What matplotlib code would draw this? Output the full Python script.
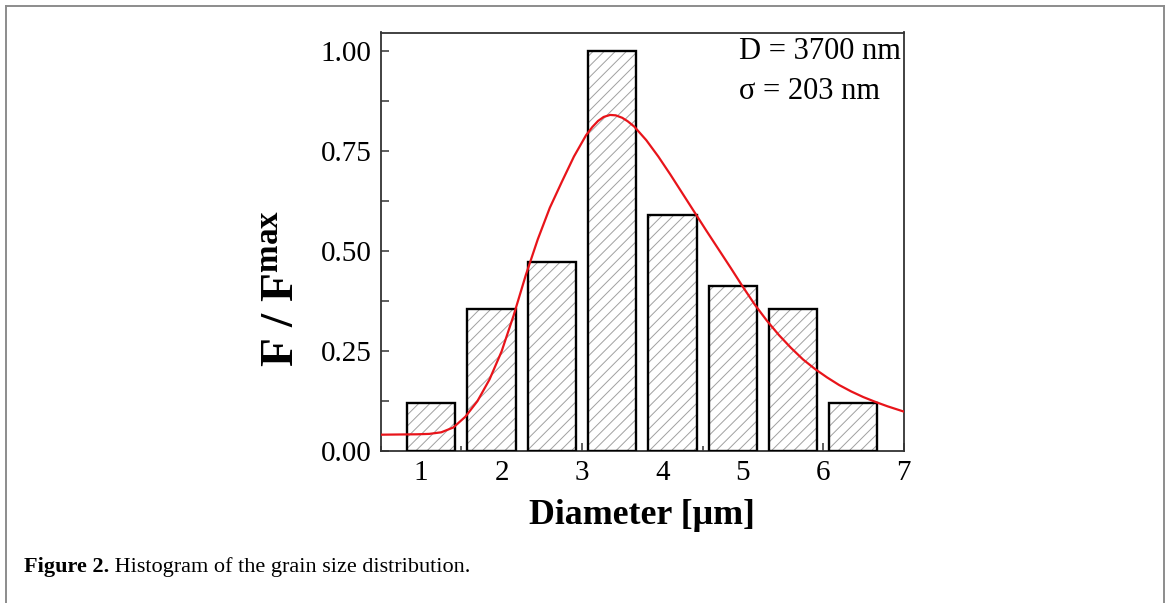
import matplotlib
matplotlib.use("Agg")
import matplotlib.pyplot as plt
from matplotlib.lines import Line2D
from matplotlib.ticker import MultipleLocator

plt.rcParams['font.family'] = ['Liberation Serif', 'DejaVu Serif']
plt.rcParams['mathtext.fontset'] = 'custom'
plt.rcParams['mathtext.rm'] = 'Liberation Serif'
plt.rcParams['mathtext.bf'] = 'Liberation Serif:bold'
plt.rcParams['mathtext.it'] = 'Liberation Serif:italic'
plt.rcParams['hatch.linewidth'] = 0.7

# ---- data ----
bin_centers = [1.125, 1.875, 2.625, 3.375, 4.125, 4.875, 5.625, 6.375]
rel_freq = [0.118, 0.353, 0.471, 1.000, 0.588, 0.412, 0.353, 0.118]
bar_width = 0.6

fit_x = [0.50, 0.95, 1.10, 1.25, 1.40, 1.55, 1.70, 1.85, 2.00, 2.15, 2.30,
         2.45, 2.60, 2.75, 2.90, 3.05, 3.13, 3.20, 3.27, 3.35, 3.42, 3.50,
         3.57, 3.65, 3.80, 3.95, 4.10, 4.25, 4.40, 4.55, 4.70, 4.85, 5.00,
         5.15, 5.30, 5.45, 5.60, 5.75, 5.90, 6.05, 6.20, 6.35, 6.50, 6.65,
         6.80, 7.00]
fit_y = [0.040, 0.041, 0.042, 0.046, 0.058, 0.085, 0.124, 0.178, 0.248, 0.338,
         0.438, 0.528, 0.607, 0.672, 0.735, 0.788, 0.809, 0.824, 0.834, 0.839,
         0.838, 0.832, 0.823, 0.810, 0.776, 0.735, 0.690, 0.643, 0.596, 0.549,
         0.503, 0.457, 0.410, 0.365, 0.325, 0.289, 0.257, 0.228, 0.204, 0.183,
         0.164, 0.148, 0.134, 0.122, 0.111, 0.098]

x_ticks = [1, 2, 3, 4, 5, 6, 7]
y_ticks = [0.00, 0.25, 0.50, 0.75, 1.00]
y_ticklabels = ['0.00', '0.25', '0.50', '0.75', '1.00']

annot_lines = ['D = 3700 nm', '\u03c3 = 203 nm']
caption_bold = 'Figure 2.'
caption_rest = ' Histogram of the grain size distribution.'

W, H = 1170, 603
fig = plt.figure(figsize=(W / 100, H / 100), dpi=100)
fig.patch.set_facecolor('white')

left, right, top, bottom = 381, 903.5, 32.5, 450.7
ax = fig.add_axes([left / W, 1 - bottom / H, (right - left) / W, (bottom - top) / H])

# hatched fill
ax.bar(bin_centers, rel_freq, width=bar_width, facecolor='white',
       edgecolor='#a0a0a0', hatch='///', linewidth=0, zorder=2)
# black outlines
ax.bar(bin_centers, rel_freq, width=bar_width, facecolor='none',
       edgecolor='black', linewidth=1.7, zorder=3)

ax.plot(fit_x, fit_y, color='#e8141a', linewidth=1.6, zorder=4,
        solid_joinstyle='round')

ax.set_xlim(0.5, 7.0)
ax.set_ylim(0, 1.045)
ax.set_xticks(x_ticks)
ax.set_yticks(y_ticks)
ax.set_yticklabels(y_ticklabels)
ax.xaxis.set_minor_locator(MultipleLocator(0.5))
ax.yaxis.set_minor_locator(MultipleLocator(0.125))
ax.tick_params(which='major', direction='in', length=6, width=1.1,
               labelsize=21, pad=7, color='#333333')
ax.tick_params(which='minor', direction='in', length=3.5, width=1.1,
               color='#333333')
ax.tick_params(axis='y', which='minor', length=6)
for sp in ax.spines.values():
    sp.set_linewidth(1.3)
    sp.set_color('#333333')

# annotation
for i, t in enumerate(annot_lines):
    fig.text(739 / W, 1 - (51.5 + 40 * i) / H, t, fontsize=22,
             ha='left', va='center')

# axis labels
fig.text(642 / W, 1 - 516 / H, 'Diameter [\u03bcm]', fontsize=25.8,
         fontweight='bold', ha='center', va='center')
fig.text(282 / W, 1 - 288 / H, r'F / F$^{\mathbf{max}}$', fontsize=34,
         fontweight='bold', rotation=90, ha='center', va='center')

# caption
cap = fig.text(24 / W, 1 - 572 / H, caption_bold, fontsize=16,
               fontweight='bold', ha='left', va='baseline')
fig.canvas.draw()
bb = cap.get_window_extent()
fig.text(bb.x1 / W, 1 - 572 / H, caption_rest, fontsize=16,
         ha='left', va='baseline')

# outer frame (top, left, right)
frame_col = '#8c8c8c'
fig.add_artist(Line2D([6 / W, 6 / W], [0, 1 - 5.5 / H], transform=fig.transFigure,
                      color=frame_col, linewidth=1.4))
fig.add_artist(Line2D([6 / W, 1164 / W], [1 - 5.5 / H, 1 - 5.5 / H],
                      transform=fig.transFigure, color=frame_col, linewidth=1.4))
fig.add_artist(Line2D([1164 / W, 1164 / W], [0, 1 - 5.5 / H],
                      transform=fig.transFigure, color=frame_col, linewidth=1.4))

fig.savefig('out.png', dpi=100, facecolor='white')
